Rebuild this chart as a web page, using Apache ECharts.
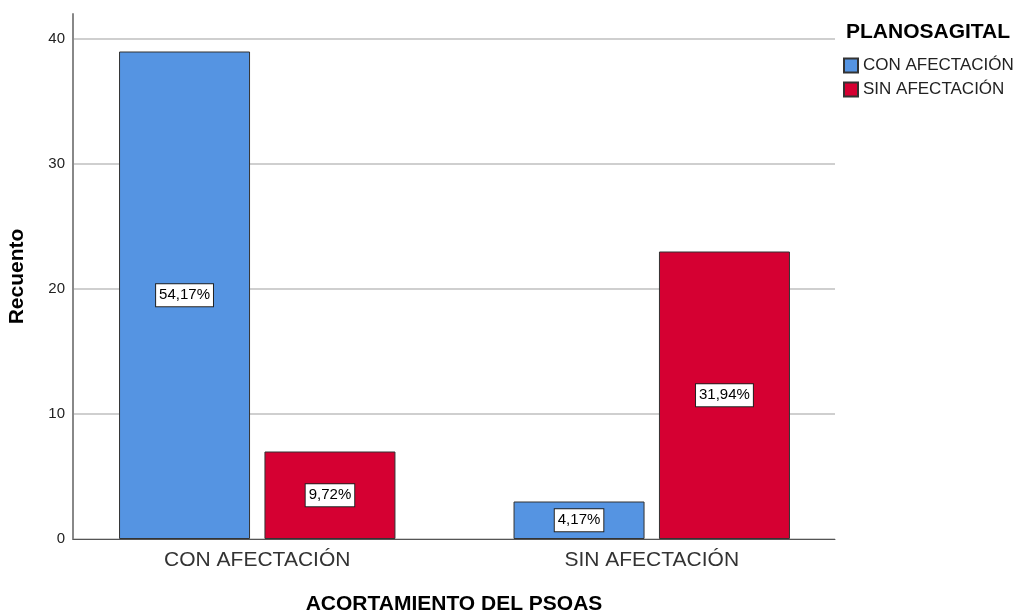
<!DOCTYPE html>
<html>
<head>
<meta charset="utf-8">
<script src="https://cdn.jsdelivr.net/npm/echarts@6/dist/echarts.min.js"></script>
<style>
  html, body { margin: 0; padding: 0; background: #fff; }
  #chart { width: 1017px; height: 614px; }
</style>
</head>
<body>
<div id="chart"></div>
<script>
// categorias del eje X
const categories = ['CON AFECTACIÓN', 'SIN AFECTACIÓN']
// recuentos por serie (PLANOSAGITAL)
const conAfectacion = [39, 3]
const sinAfectacion = [7, 23]
// porcentajes del total mostrados en las barras
const conPct = ['54,17%', '4,17%']
const sinPct = ['9,72%', '31,94%']
const yTicks = [0, 10, 20, 30, 40]

const chart = echarts.init(document.getElementById('chart'))

const labelStyle = (pcts) => ({
    show: true,
    position: 'inside',
    formatter: (p) => pcts[p.dataIndex],
    color: '#000',
    fontFamily: 'Arial, Liberation Sans',
    fontSize: 15,
    backgroundColor: '#fff',
    borderColor: '#222',
    borderWidth: 1,
    padding: [4, 3, 3, 3],
})

const option = {
    animation: false,
    textStyle: { fontFamily: 'Arial, Liberation Sans' },
    grid: [
        // eje y + lineas de rejilla
        { left: 73, right: 182, top: 14, bottom: 75, outerBoundsMode: 'none' },
        // area de barras
        { left: 60, right: 168, top: 14, bottom: 75, outerBoundsMode: 'none' },
    ],
    xAxis: [
        {
            gridIndex: 0,
            type: 'category',
            data: categories,
            axisLabel: { show: false },
            axisTick: { show: false },
            axisLine: { lineStyle: { color: '#555', width: 1 } },
            name: 'ACORTAMIENTO DEL PSOAS',
            nameLocation: 'middle',
            nameGap: 55,
            nameTextStyle: { fontSize: 21, fontWeight: 'bold', color: '#000' },
        },
        {
            gridIndex: 1,
            type: 'category',
            data: categories,
            axisLine: { show: false },
            axisTick: { show: false },
            axisLabel: { fontSize: 21, color: '#333', margin: 11 },
        },
    ],
    yAxis: [
        {
            gridIndex: 0,
            type: 'value',
            min: 0,
            max: 42,
            interval: 10,
            axisLabel: {
                color: '#222',
                fontSize: 15,
                margin: 8,
                formatter: (v) => (yTicks.includes(v) ? String(v) : ''),
            },
            axisTick: { show: false },
            axisLine: { show: true, lineStyle: { color: '#888', width: 2 } },
            splitLine: { showMaxLine: false, lineStyle: { color: '#cfcfcf', width: 2 } },
            name: 'Recuento',
            nameLocation: 'middle',
            nameGap: 45,
            nameTextStyle: { fontSize: 21, fontWeight: 'bold', color: '#000' },
        },
        {
            gridIndex: 1,
            type: 'value',
            min: 0,
            max: 42,
            show: false,
        },
    ],
    legend: {
        orient: 'vertical',
        left: 838,
        top: 52,
        icon: 'rect',
        itemWidth: 14,
        itemHeight: 14,
        itemGap: 7,
        textStyle: { fontSize: 17, color: '#222', lineHeight: 16 },
        data: ['CON AFECTACIÓN', 'SIN AFECTACIÓN'],
    },
    graphic: [
        {
            type: 'text',
            left: 846,
            top: 22,
            style: { text: 'PLANOSAGITAL', font: 'bold 21px Arial, Liberation Sans', fill: '#000' },
        },
    ],
    series: [
        {
            name: 'CON AFECTACIÓN',
            type: 'bar',
            xAxisIndex: 1,
            yAxisIndex: 1,
            data: conAfectacion,
            barWidth: 131,
            barGap: '11%',
            itemStyle: { color: '#5594e2', borderColor: '#333', borderWidth: 1 },
            label: labelStyle(conPct),
        },
        {
            name: 'SIN AFECTACIÓN',
            type: 'bar',
            xAxisIndex: 1,
            yAxisIndex: 1,
            data: sinAfectacion,
            barWidth: 131,
            itemStyle: { color: '#d50032', borderColor: '#333', borderWidth: 1 },
            label: labelStyle(sinPct),
        },
    ],
}
chart.setOption(option)
</script>
</body>
</html>
